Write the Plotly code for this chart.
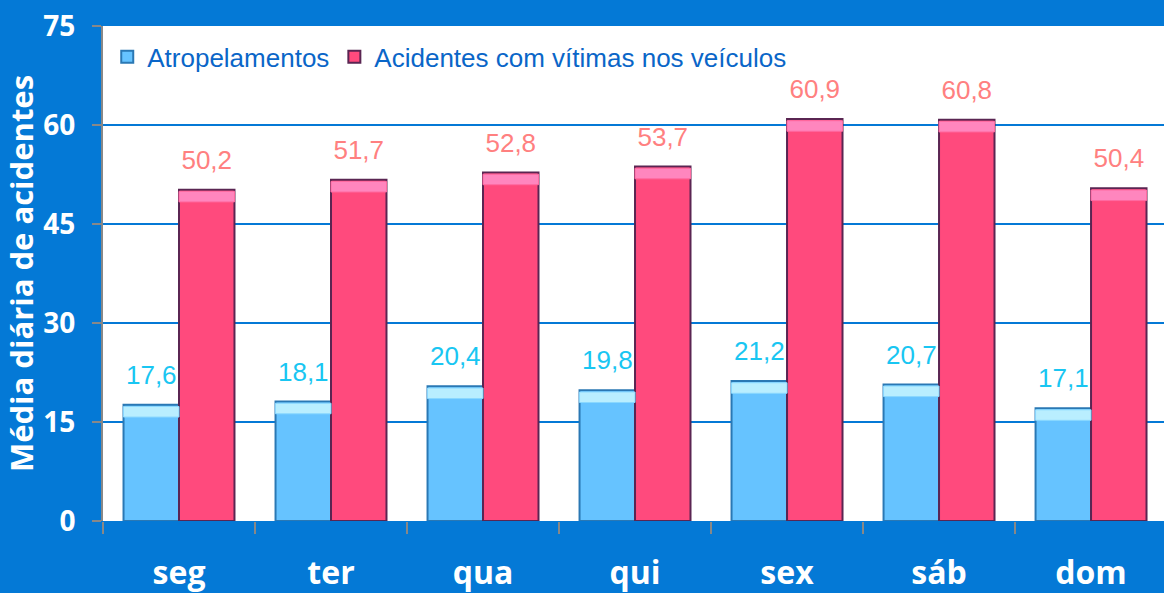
import plotly.graph_objects as go

dias = ["seg", "ter", "qua", "qui", "sex", "sáb", "dom"]
atropelamentos = [17.6, 18.1, 20.4, 19.8, 21.2, 20.7, 17.1]
acidentes_veiculos = [50.2, 51.7, 52.8, 53.7, 60.9, 60.8, 50.4]
y_ticks = [0, 15, 30, 45, 60, 75]

BG = "#0479D6"
HL = 1.6      # highlight band height (data units)
GAP = 1.8     # space between bar top and its value label (data units)
LBL_FONT = "Liberation Sans Narrow, Arial Narrow, Liberation Sans, Arial"

fig = go.Figure()
fig.add_trace(go.Bar(
    x=dias, y=atropelamentos, name="Atropelamentos", offsetgroup="a",
    marker=dict(color="#66C3FF", line=dict(color="#2A78B4", width=2)),
))
fig.add_trace(go.Bar(
    x=dias, y=acidentes_veiculos, name="Acidentes com vítimas nos veículos", offsetgroup="b",
    marker=dict(color="#FF4A7D", line=dict(color="#5A2552", width=2)),
))
# top highlight bands (bevel effect)
fig.add_trace(go.Bar(
    x=dias, y=[HL] * len(dias), base=[v - HL - 0.25 for v in atropelamentos], offsetgroup="a",
    marker=dict(color="#B9EEFF", line=dict(color="#8AD8FF", width=1)),
    showlegend=False, hoverinfo="skip",
))
fig.add_trace(go.Bar(
    x=dias, y=[HL] * len(dias), base=[v - HL - 0.25 for v in acidentes_veiculos], offsetgroup="b",
    marker=dict(color="#FF86BE", line=dict(color="#FF6AA0", width=1)),
    showlegend=False, hoverinfo="skip",
))
# transparent spacers carrying the value labels
fig.add_trace(go.Bar(
    x=dias, y=[GAP] * len(dias), base=atropelamentos, offsetgroup="a",
    customdata=atropelamentos, texttemplate="%{customdata:.1f}", textposition="outside",
    cliponaxis=False, textfont=dict(color="#19C6F2", size=26, family=LBL_FONT),
    marker=dict(color="rgba(0,0,0,0)", line=dict(width=0)),
    showlegend=False, hoverinfo="skip",
))
fig.add_trace(go.Bar(
    x=dias, y=[GAP] * len(dias), base=acidentes_veiculos, offsetgroup="b",
    customdata=acidentes_veiculos, texttemplate="%{customdata:.1f}", textposition="outside",
    cliponaxis=False, textfont=dict(color="#FF8080", size=26, family=LBL_FONT),
    marker=dict(color="rgba(0,0,0,0)", line=dict(width=0)),
    showlegend=False, hoverinfo="skip",
))

fig.update_layout(
    width=1164, height=593,
    paper_bgcolor=BG, plot_bgcolor="white",
    margin=dict(l=103, r=0, t=26, b=72),
    barmode="group", bargap=0.27, bargroupgap=0,
    separators=",.",
    showlegend=True,
    legend=dict(
        orientation="h", x=0.004, y=0.985, xanchor="left", yanchor="top",
        bgcolor="rgba(0,0,0,0)",
        font=dict(color="#0A66C8", size=26, family=LBL_FONT),
        itemwidth=30, tracegroupgap=0, traceorder="normal",
    ),
    xaxis=dict(
        range=[-0.5, 6.48], showgrid=False, zeroline=False,
        showline=False, ticks="outside", tickson="boundaries", ticklen=12,
        tickcolor="#888888", tickwidth=2,
        tickfont=dict(color="white", size=32, family="Open Sans", weight="bold"),
        ticklabelstandoff=30,
    ),
    yaxis=dict(
        range=[0, 75], tickvals=y_ticks, showgrid=True, gridcolor="#0479D6", gridwidth=2,
        zeroline=False, showline=True, linecolor="#888888", linewidth=2,
        ticks="outside", ticklen=9, tickcolor="#888888", tickwidth=2,
        tickfont=dict(color="white", size=28, family="Open Sans", weight="bold"),
        ticklabelstandoff=11,
        title=dict(text="Média diária de acidentes", standoff=6,
                   font=dict(color="white", size=31, family="Open Sans", weight="bold")),
    ),
)

fig.write_html(
    "out.html",
    config={"displayModeBar": False},
    post_script="document.body.style.margin='0';document.body.style.overflow='hidden';",
)
